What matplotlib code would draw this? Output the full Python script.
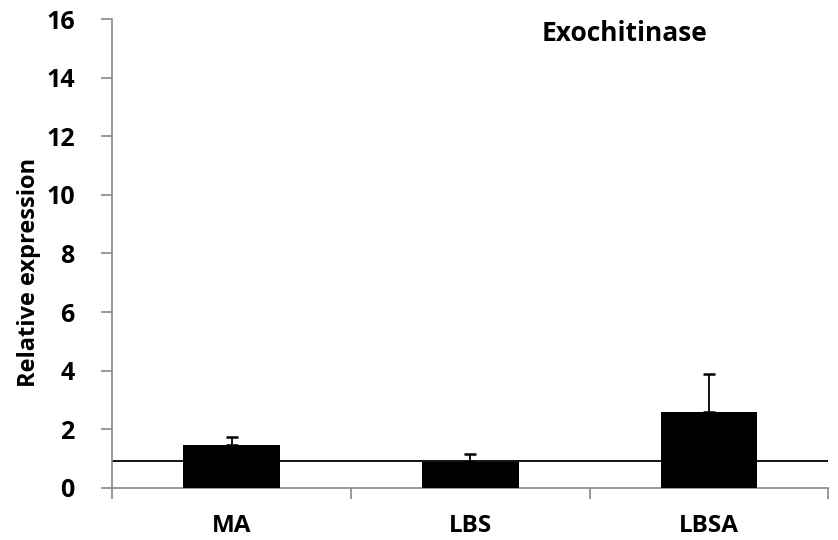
import matplotlib
matplotlib.use("Agg")
import matplotlib.pyplot as plt
import numpy as np

categories = ["MA", "LBS", "LBSA"]
values = [1.45, 0.88, 2.57]
errors_up = [0.29, 0.28, 1.30]
reference_level = 0.91
y_ticks = [0, 2, 4, 6, 8, 10, 12, 14, 16]
title = "Exochitinase"
ylabel = "Relative expression"

plt.rcParams['font.family'] = ['Open Sans', 'DejaVu Sans']

fig = plt.figure(figsize=(8.38, 5.40), dpi=100)
ax = fig.add_axes([0.134, 0.0969, 0.8544, 0.8674])

x = np.arange(len(categories))
ax.bar(x, values, width=0.405, color='black', zorder=3)
ax.errorbar(x, values, yerr=[np.zeros(len(values)), errors_up], fmt='none',
            ecolor='black', elinewidth=1.3, capsize=4, capthick=1.8, zorder=4)
ax.axhline(reference_level, color='black', linewidth=1.3, zorder=2)

ax.set_xlim(-0.5, len(categories) - 0.5)
ax.set_ylim(0, 16)
ax.set_yticks(y_ticks)
ax.set_yticklabels([str(t) for t in y_ticks], fontsize=18, fontweight='bold')
ax.set_xticks(x)
ax.set_xticklabels(categories, fontsize=17.5, fontweight='bold')
ax.tick_params(axis='x', length=0, pad=19)
ax.set_xticks(np.arange(-0.5, len(categories)), minor=True)
ax.tick_params(axis='x', which='minor', length=8, color='#888888', width=1.2)
ax.tick_params(axis='y', length=8, color='#888888', width=1.2, pad=19)

for s in ['top', 'right']:
    ax.spines[s].set_visible(False)
for s in ['left', 'bottom']:
    ax.spines[s].set_color('#888888')
    ax.spines[s].set_linewidth(1.2)

ax.set_ylabel(ylabel, fontsize=17, fontweight='bold')
ax.yaxis.set_label_coords(-0.1, 0.46)
ax.text(0.715, 0.97, title, transform=ax.transAxes, fontsize=19,
        fontweight='bold', ha='center', va='center')

fig.savefig("out.png", dpi=100)
